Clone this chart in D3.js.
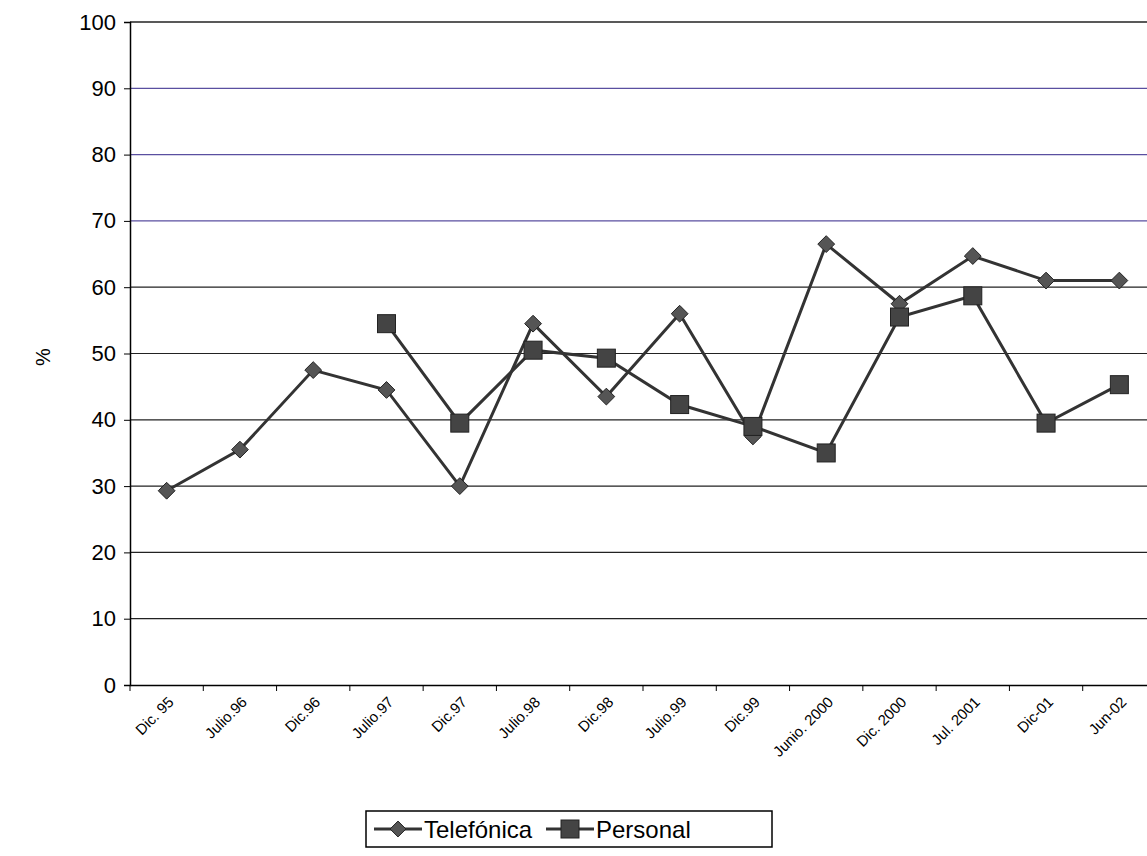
<!DOCTYPE html>
<html><head><meta charset="utf-8">
<script src="https://cdn.jsdelivr.net/npm/d3@7"></script>
<style>body{margin:0;background:#fff}</style>
</head><body>
<svg id="chart" width="1147" height="856"></svg>
<script>
const categories = ["Dic. 95","Julio.96","Dic.96","Julio.97","Dic.97","Julio.98","Dic.98","Julio.99","Dic.99","Junio. 2000","Dic. 2000","Jul. 2001","Dic-01","Jun-02"];
const telefonica = [29.3,35.5,47.5,44.5,30,54.5,43.5,56,37.5,66.5,57.5,64.7,61,61];
const personal = [null,null,null,54.5,39.5,50.5,49.3,42.3,39,35,55.5,58.7,39.5,45.3];
const yTicks = [0,10,20,30,40,50,60,70,80,90,100];

const svg = d3.select("#chart");
const plotLeft = 130, plotTop = 22, plotW = 1026, plotH = 663;
const x = d3.scaleBand().domain(categories).range([plotLeft, plotLeft + plotW]);
const y = d3.scaleLinear().domain([0, 100]).range([plotTop + plotH, plotTop]);
const g = svg.append("g");

g.selectAll("line.grid").data(yTicks.slice(1)).enter().append("line")
  .attr("x1", plotLeft).attr("x2", 1147)
  .attr("y1", d => y(d)).attr("y2", d => y(d))
  .attr("stroke", d => (d >= 70 && d < 100) ? "#5a4fa0" : "#222").attr("stroke-width", d => d == 100 ? 1.6 : 1.2);

const yAxis = g.append("g").attr("transform", `translate(${plotLeft},0)`)
  .call(d3.axisLeft(y).tickValues(yTicks).tickSize(6).tickPadding(8));
yAxis.select(".domain").attr("stroke-width", 1.5);
yAxis.selectAll("text").attr("font-family", "Liberation Sans, Arial").attr("font-size", 22).attr("fill", "#000");

const xAxis = g.append("g").attr("transform", `translate(0,${y(0)})`)
  .call(d3.axisBottom(x).tickSize(0).tickFormat(""));
xAxis.select(".domain").attr("stroke-width", 1.5);
g.selectAll("line.xt").data(categories).enter().append("line")
  .attr("x1", d => x(d)).attr("x2", d => x(d))
  .attr("y1", y(0)).attr("y2", y(0) + 6).attr("stroke", "#000");
g.selectAll("text.xl").data(categories).enter().append("text")
  .attr("transform", d => `translate(${x(d) + x.bandwidth()/2 + 8},${y(0) + 18}) rotate(-45)`)
  .attr("text-anchor", "end")
  .attr("font-family", "Liberation Sans, Arial").attr("font-size", 15)
  .text(d => d);

svg.append("text").attr("transform", "translate(50,357) rotate(-90)")
  .attr("text-anchor", "middle").attr("font-family", "Liberation Sans, Arial").attr("font-size", 20).text("%");

const cx = (d, i) => x(categories[i]) + x.bandwidth()/2;
const line = d3.line().defined(d => d != null).x(cx).y(d => y(d));
const col = "#333";
g.append("path").datum(telefonica).attr("d", line).attr("fill", "none").attr("stroke", col).attr("stroke-width", 3);
g.append("path").datum(personal).attr("d", line).attr("fill", "none").attr("stroke", col).attr("stroke-width", 3);

g.selectAll("path.dm").data(telefonica).enter().append("path")
  .attr("d", d3.symbol(d3.symbolDiamond2, 180)())
  .attr("transform", (d, i) => `translate(${cx(d, i)},${y(d)})`)
  .attr("fill", "#555").attr("stroke", "#222");
g.selectAll("rect.sq").data(personal.map((d, i) => [d, i]).filter(p => p[0] != null)).enter().append("rect")
  .attr("x", p => cx(p[0], p[1]) - 9).attr("y", p => y(p[0]) - 9)
  .attr("width", 18).attr("height", 18).attr("fill", "#444").attr("stroke", "#222");

// legend
const lg = svg.append("g").attr("transform", "translate(366,811)");
lg.append("rect").attr("width", 406).attr("height", 36).attr("fill", "#fff").attr("stroke", "#000").attr("stroke-width", 1.5);
lg.append("line").attr("x1", 8).attr("x2", 56).attr("y1", 18).attr("y2", 18).attr("stroke", col).attr("stroke-width", 3);
lg.append("path").attr("d", d3.symbol(d3.symbolDiamond2, 160)()).attr("transform", "translate(32,18)").attr("fill", "#555").attr("stroke", "#222");
lg.append("text").attr("x", 58).attr("y", 27).attr("font-family", "Liberation Sans, Arial").attr("font-size", 24).text("Telefónica");
lg.append("line").attr("x1", 180).attr("x2", 228).attr("y1", 18).attr("y2", 18).attr("stroke", col).attr("stroke-width", 3);
lg.append("rect").attr("x", 195).attr("y", 9).attr("width", 18).attr("height", 18).attr("fill", "#444").attr("stroke", "#222");
lg.append("text").attr("x", 230).attr("y", 27).attr("font-family", "Liberation Sans, Arial").attr("font-size", 24).text("Personal");
</script>
</body></html>
